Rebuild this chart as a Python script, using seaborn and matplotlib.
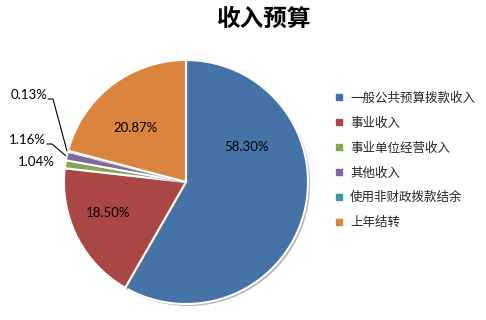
import matplotlib
matplotlib.use("Agg")
import matplotlib.pyplot as plt
import matplotlib.patheffects as pe
from matplotlib.lines import Line2D
import numpy as np
import seaborn as sns

# Budget revenue composition (percent)
categories = ["一般公共预算拨款收入", "事业收入", "事业单位经营收入",
              "其他收入", "使用非财政拨款结余", "上年结转"]
shares = [58.30, 18.50, 1.04, 1.16, 0.13, 20.87]
colors = ["#4572A7", "#AA4643", "#89A54E", "#80699B", "#3D96AE", "#DB843D"]
title = "收入预算"

sns.set_theme(style="white")
plt.rcParams["font.family"] = ["Noto Sans CJK SC", "DejaVu Sans"]

W, H = 486, 320
fig = plt.figure(figsize=(W / 100, H / 100), dpi=100)
ax = fig.add_axes([0, 0, 1, 1])

# the axes works in pixel units (y grows upward)
cx, cy, R = 186, H - 182, 122
explode = [0.04] * len(shares)

wedges, _ = ax.pie(
    shares, colors=colors, startangle=90, counterclock=False,
    explode=explode, center=(cx, cy), radius=R, frame=True,
    wedgeprops=dict(edgecolor="white", linewidth=1.5),
)
for w in wedges:
    w.set_path_effects([
        pe.SimplePatchShadow(offset=(1.5, -1.5), shadow_rgbFace="#707070", alpha=0.5),
        pe.Normal(),
    ])

ax.set_xlim(0, W)
ax.set_ylim(0, H)
ax.set_aspect("equal")
ax.axis("off")

label_font = dict(family=["Lato", "DejaVu Sans"], fontsize=9.5, color="#000000")

# label placement: (polar angle in degrees, distance from centre in px) for inside labels
inside = {0: (30, 70), 1: (201.8, 84), 5: (133, 74)}
for i, (ang, dist) in inside.items():
    a = np.deg2rad(ang)
    ax.text(cx + dist * np.cos(a), cy + dist * np.sin(a), f"{shares[i]:.2f}%",
            ha="center", va="center", **label_font)

# outside labels for the thin slices
def wedge_edge(i, extra=0.0):
    w = wedges[i]
    mid = np.deg2rad((w.theta1 + w.theta2) / 2)
    x0, y0 = w.center
    return x0 + (w.r + extra) * np.cos(mid), y0 + (w.r + extra) * np.sin(mid)

outside = {4: (47, H - 95, True), 3: (46, H - 140, True), 2: (55, H - 162, False)}
for i, (tx, ty, leader) in outside.items():
    ax.text(tx, ty, f"{shares[i]:.2f}%", ha="right", va="center", **label_font)
    if leader:
        ex, ey = wedge_edge(i, 1)
        ax.plot([tx + 1, tx + 6, ex], [ty - 4, ty - 4, ey], color="black", lw=0.8)

fig.text(264 / W, 1 - 19 / H, title, ha="center", va="center",
         fontsize=17, fontweight="bold", color="#000000")

handles = [Line2D([0], [0], marker="s", linestyle="none", markersize=4.5,
                  markerfacecolor=c, markeredgecolor=c) for c in colors]
ax.legend(handles, categories, loc="center left",
          bbox_to_anchor=(335 / W, 1 - 160.5 / H), bbox_transform=fig.transFigure,
          frameon=False, fontsize=9, handlelength=0.6, handletextpad=0.6,
          labelspacing=0.95, borderpad=0, borderaxespad=0)

fig.savefig("out.png", dpi=100)
